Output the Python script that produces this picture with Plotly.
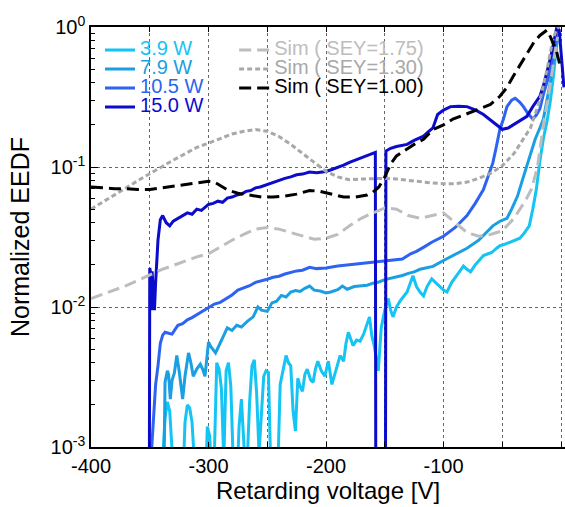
import plotly.graph_objects as go

# ---------------- data ----------------
v_39 = [-341, -339, -337, -335, -333, -331, -329, -322, -320, -318, -316, -314, -312, -310,
        -303, -301, -299, -297, -295, -293, -291, -289, -287, -285, -283, -281, -279, -276,
        -274, -272, -270, -268, -265, -263, -261, -259, -257, -255, -253, -251, -249, -247,
        -241, -239, -236, -234, -232, -230, -228, -226, -224, -222, -220, -218, -216, -213,
        -211, -209, -207, -204, -201, -198, -195, -192, -188, -185, -183, -181, -179, -177,
        -174, -171, -168, -165, -163, -161, -159, -157, -155.5, -153, -150, -147, -145, -143,
        -140, -137, -134, -131, -128, -126, -123, -120, -117, -114, -110, -106, -103, -100,
        -97, -93, -89, -86, -83, -80, -77, -73, -69, -66, -62, -59, -55, -52, -48, -44, -40,
        -35, -31, -27, -24, -21, -18, -15, -12, -9, -6, -4, -2.5]
y_39 = [0.0001, 0.0008, 0.0016, 0.0021, 0.0018, 0.0009, 0.0005, 0.0005, 0.0015, 0.0020, 0.0019,
        0.0015, 0.0009, 0.0004, 0.0004, 0.0014, 0.0012, 0.0006, 0.0009, 0.0040, 0.0036, 0.0026,
        0.0008, 0.0035, 0.0040, 0.0027, 0.0008, 0.0005, 0.0014, 0.0022, 0.0011, 0.0005, 0.0021,
        0.0038, 0.0042, 0.0024, 0.0009, 0.0016, 0.0032, 0.0035, 0.0034, 0.0007, 0.0007, 0.0028,
        0.0038, 0.0045, 0.0040, 0.0038, 0.0018, 0.0013, 0.0031, 0.0027, 0.0025, 0.0033, 0.0036,
        0.0030, 0.0029, 0.0036, 0.0041, 0.0035, 0.0032, 0.0041, 0.0028, 0.0034, 0.0045, 0.0041,
        0.0055, 0.0066, 0.0058, 0.0053, 0.0058, 0.0057, 0.0064, 0.0075, 0.0085, 0.0062, 0.0053,
        0.0042, 0.0035, 0.0071, 0.0095, 0.0115, 0.0095, 0.0085, 0.0100, 0.0110, 0.0118, 0.0128,
        0.0150, 0.0167, 0.0140, 0.0128, 0.0120, 0.0140, 0.0159, 0.0148, 0.0138, 0.0132, 0.0128,
        0.0150, 0.0167, 0.0180, 0.0196, 0.0186, 0.0178, 0.0200, 0.0218, 0.0233, 0.0240, 0.0245,
        0.0262, 0.0274, 0.0280, 0.0290, 0.0298, 0.031, 0.034, 0.038, 0.050, 0.069, 0.11, 0.16,
        0.21, 0.30, 0.48, 0.75, 1.0]

v_79 = [-339, -338, -337, -335, -334, -332.5, -331, -329, -327, -325, -322, -320, -317, -315,
        -313, -310, -307, -305, -303, -300, -298, -294, -290, -286, -284, -280, -276, -272,
        -267, -262, -258, -255, -250, -246, -242, -238, -234, -230, -226, -222, -218, -214,
        -210, -205, -200, -196, -190, -186, -182, -176, -170, -165, -160, -155, -150, -145,
        -140, -135, -130, -125, -120, -115, -109, -100, -90, -80, -70, -62, -58, -52, -46, -42,
        -37, -33, -29, -25, -22, -18, -15, -12, -9, -6, -3, -2]
y_79 = [0.0001, 0.0009, 0.0029, 0.0035, 0.0033, 0.0022, 0.0030, 0.0034, 0.0045, 0.0035, 0.0022,
        0.0032, 0.0047, 0.0040, 0.0032, 0.0036, 0.0039, 0.0036, 0.0032, 0.0056, 0.0052, 0.0047,
        0.0055, 0.0066, 0.0071, 0.0068, 0.0074, 0.0072, 0.0079, 0.0085, 0.0100, 0.0095, 0.0093,
        0.0107, 0.0110, 0.0121, 0.0118, 0.0128, 0.0131, 0.0129, 0.0136, 0.0141, 0.0132, 0.0130,
        0.0126, 0.0128, 0.0133, 0.0141, 0.0134, 0.0140, 0.0142, 0.0143, 0.0148, 0.0151, 0.0157,
        0.0160, 0.0164, 0.0168, 0.0174, 0.0178, 0.0186, 0.0190, 0.0195, 0.0215, 0.0238, 0.0263,
        0.030, 0.035, 0.038, 0.041, 0.043, 0.050, 0.062, 0.080, 0.102, 0.13, 0.158, 0.19, 0.22,
        0.30, 0.40, 0.55, 0.81, 0.95]

v_105 = [-349.5, -349, -347, -345, -343, -341, -339, -337, -334, -331, -328, -326, -322, -318,
         -314, -310, -305, -300, -295, -290, -285, -280, -275, -270, -265, -260, -255, -250,
         -245, -240, -235, -230, -225, -220, -214, -208, -200, -190, -180, -170, -160, -150,
         -143, -135, -128, -123, -116, -110, -100, -90, -80, -73, -66, -62, -58, -55, -52, -49,
         -46, -42, -39, -35, -32, -28, -24, -21, -18, -15, -12, -9, -6, -3]
y_105 = [0.0001, 0.0008, 0.0015, 0.0028, 0.0038, 0.0055, 0.0063, 0.0066, 0.0065, 0.0064, 0.0070,
         0.0074, 0.0076, 0.0081, 0.0084, 0.0088, 0.0094, 0.0100, 0.0105, 0.0108, 0.0115, 0.0122,
         0.0132, 0.0137, 0.0142, 0.0150, 0.0153, 0.0158, 0.0163, 0.0166, 0.0172, 0.0177, 0.0181,
         0.0183, 0.0192, 0.0188, 0.0190, 0.0196, 0.0200, 0.0204, 0.0207, 0.0211, 0.0214, 0.0220,
         0.024, 0.025, 0.027, 0.029, 0.032, 0.037, 0.045, 0.055, 0.069, 0.085, 0.107, 0.14, 0.186,
         0.22, 0.27, 0.30, 0.31, 0.29, 0.27, 0.24, 0.22, 0.235, 0.26, 0.33, 0.41, 0.49, 0.70, 0.95]

v_150 = [-350.5, -350, -349, -348.5, -348, -347, -346, -345, -343, -341, -339, -336, -333, -330,
         -326, -322, -318, -314, -310, -306, -300, -296, -292, -288, -284, -280, -276, -272,
         -268, -264, -260, -256, -250, -245, -240, -235, -230, -225, -220, -214, -208, -200,
         -195, -190, -185, -180, -175, -170, -165, -160, -158, -157.5, -149.5, -149, -145, -140,
         -135, -131, -125, -120, -117, -113, -109, -105, -100, -94, -87, -80, -73, -66, -58, -50,
         -45, -41, -35, -29, -24, -18, -15, -12, -9, -7, -5, -3.5, -1.5, 0.5, 2.5]
y_150 = [0.0001, 0.019, 0.017, 0.0095, 0.018, 0.012, 0.0095, 0.015, 0.030, 0.042, 0.045, 0.040,
         0.038, 0.041, 0.043, 0.045, 0.047, 0.046, 0.050, 0.049, 0.054, 0.055, 0.057, 0.056,
         0.060, 0.061, 0.063, 0.064, 0.067, 0.068, 0.071, 0.072, 0.075, 0.078, 0.080, 0.083,
         0.085, 0.088, 0.089, 0.092, 0.091, 0.093, 0.096, 0.099, 0.103, 0.108, 0.112, 0.116,
         0.120, 0.125, 0.127, 0.0001, 0.0001, 0.130, 0.136, 0.140, 0.143, 0.145, 0.155, 0.163,
         0.166, 0.178, 0.190, 0.237, 0.255, 0.270, 0.272, 0.270, 0.256, 0.237, 0.210, 0.186,
         0.190, 0.200, 0.215, 0.230, 0.270, 0.320, 0.380, 0.470, 0.600, 0.720, 0.870, 1.0, 0.95,
         0.60, 0.37]

v_sim175 = [-400, -390, -380, -370, -360, -350, -340, -330, -320, -310, -300, -290, -280, -270,
            -260, -250, -240, -230, -220, -210, -200, -190, -180, -170, -160, -150, -140, -130,
            -120, -110, -100, -90, -80, -70, -60, -50, -40, -30, -25, -20, -15, -10, -6, -3]
y_sim175 = [0.0115, 0.0123, 0.0132, 0.0142, 0.0155, 0.0170, 0.0185, 0.0198, 0.0212, 0.0228,
            0.0240, 0.027, 0.030, 0.033, 0.036, 0.037, 0.036, 0.034, 0.032, 0.0305, 0.031, 0.033,
            0.038, 0.043, 0.047, 0.051, 0.050, 0.045, 0.043, 0.045, 0.047, 0.040, 0.034, 0.032,
            0.033, 0.035, 0.043, 0.058, 0.070, 0.100, 0.20, 0.35, 0.60, 0.85]

v_sim130 = [-400, -390, -380, -370, -360, -350, -340, -330, -320, -310, -300, -290, -280, -270,
            -260, -250, -240, -230, -220, -210, -200, -190, -180, -170, -160, -150, -140, -130,
            -120, -110, -100, -90, -80, -70, -60, -50, -40, -32, -26, -18, -12, -7, -4, -2]
y_sim130 = [0.050, 0.056, 0.063, 0.071, 0.080, 0.089, 0.100, 0.112, 0.125, 0.138, 0.148, 0.160,
            0.172, 0.180, 0.185, 0.180, 0.165, 0.145, 0.125, 0.108, 0.093, 0.085, 0.081, 0.082,
            0.083, 0.083, 0.082, 0.080, 0.079, 0.077, 0.076, 0.076, 0.078, 0.083, 0.090, 0.102,
            0.125, 0.16, 0.19, 0.30, 0.49, 0.81, 0.95, 1.0]

v_sim100 = [-400, -390, -380, -370, -360, -350, -340, -330, -320, -310, -300, -295, -290, -283,
            -275, -265, -255, -245, -235, -225, -214, -205, -195, -185, -175, -165, -160, -155,
            -150, -145, -140, -131, -125, -117, -109, -100, -92, -80, -69, -60, -52, -46, -41,
            -35, -29, -23, -18, -12, -9, -4, 0]
y_sim100 = [0.072, 0.071, 0.070, 0.070, 0.069, 0.069, 0.071, 0.073, 0.075, 0.077, 0.079, 0.078,
            0.074, 0.068, 0.065, 0.063, 0.061, 0.061, 0.062, 0.064, 0.068, 0.067, 0.064, 0.061,
            0.061, 0.063, 0.066, 0.072, 0.085, 0.105, 0.120, 0.135, 0.145, 0.158, 0.185, 0.200,
            0.220, 0.240, 0.260, 0.280, 0.320, 0.370, 0.440, 0.530, 0.650, 0.780, 0.870, 0.950,
            0.850, 0.680, 0.500]

y_tickvals = [0.001, 0.01, 0.1, 1]
y_ticktext = ["10<sup>-3</sup>", "10<sup>-2</sup>", "10<sup>-1</sup>", "10<sup>0</sup>"]
x_tickvals = [-400, -300, -200, -100, 0]
x_ticktext = ["-400", "-300", "-200", "-100", "0"]

# ---------------- figure ----------------
FONT = "Liberation Sans, Arial, sans-serif"
fig = go.Figure()


def label(text, color):
    return f'<span style="font-size:20px;color:{color}">{text}</span>'


data_series = [
    (v_39, y_39, "3.9 W", "#14C4F4"),
    (v_79, y_79, "7.9 W", "#1A9FE2"),
    (v_105, y_105, "10.5 W", "#2D63F2"),
    (v_150, y_150, "15.0 W", "#0B0BCC"),
]
for vx, vy, nm, col in data_series:
    fig.add_trace(go.Scatter(x=vx, y=vy, mode="lines", name=label(nm, col),
                             line=dict(color=col, width=3), legend="legend"))

sim_series = [
    (v_sim175, y_sim175, "Sim ( SEY=1.75)", "#BDBDBD", "12px,6px", "#BDBDBD"),
    (v_sim130, y_sim130, "Sim ( SEY=1.30)", "#A8A8A8", "5px,3px", "#A8A8A8"),
    (v_sim100, y_sim100, "Sim ( SEY=1.00)", "#000000", "12px,6px", "#000000"),
]
for vx, vy, nm, col, dash, tcol in sim_series:
    fig.add_trace(go.Scatter(x=vx, y=vy, mode="lines", name=label(nm, tcol),
                             line=dict(color=col, width=3, dash=dash), legend="legend2"))

grid = dict(showgrid=True, gridcolor="#666666", gridwidth=1, griddash="dot")

fig.update_layout(
    width=565, height=507,
    margin=dict(l=91, r=0, t=27, b=60, autoexpand=False),
    paper_bgcolor="white", plot_bgcolor="white",
    font=dict(family=FONT, size=20, color="black"),
    showlegend=True,
    legend=dict(x=0.019, y=0.98, xanchor="left", yanchor="top", bgcolor="rgba(0,0,0,0)",
                font=dict(family=FONT, size=12), tracegroupgap=0, itemwidth=30),
    legend2=dict(x=0.302, y=0.98, xanchor="left", yanchor="top", bgcolor="rgba(0,0,0,0)",
                 font=dict(family=FONT, size=12), tracegroupgap=0, itemwidth=30),
    xaxis=dict(range=[-400, 3.4], tickmode="array", tickvals=x_tickvals, ticktext=x_ticktext,
               ticks="inside", ticklen=5, tickcolor="black", showline=True, linecolor="black",
               linewidth=1.5, mirror="ticks", zeroline=False, automargin=False,
               tickfont=dict(size=20),
               minor=dict(dtick=50, tick0=0, ticks="inside", ticklen=5, tickcolor="black", **grid),
               title=dict(text="Retarding voltage [V]", font=dict(size=24), standoff=2),
               **grid),
    yaxis=dict(type="log", range=[-3, 0], tickmode="array", tickvals=y_tickvals,
               ticktext=y_ticktext, ticks="inside", ticklen=7, tickcolor="black",
               showline=True, linecolor="black", linewidth=1.5, mirror=False, automargin=False,
               tickfont=dict(size=20),
               minor=dict(tickmode="array",
                          tickvals=[2e-3, 3e-3, 4e-3, 5e-3, 6e-3, 7e-3, 8e-3, 9e-3,
                                    2e-2, 3e-2, 4e-2, 5e-2, 6e-2, 7e-2, 8e-2, 9e-2,
                                    2e-1, 3e-1, 4e-1, 5e-1, 6e-1, 7e-1, 8e-1, 9e-1],
                          ticks="inside", ticklen=4, tickcolor="black", showgrid=False),
               title=dict(text="Normalized EEDF", font=dict(size=25), standoff=14),
               **grid),
)

fig.write_html("out.html", config={"displayModeBar": False},
               post_script="document.body.style.margin='0';")
